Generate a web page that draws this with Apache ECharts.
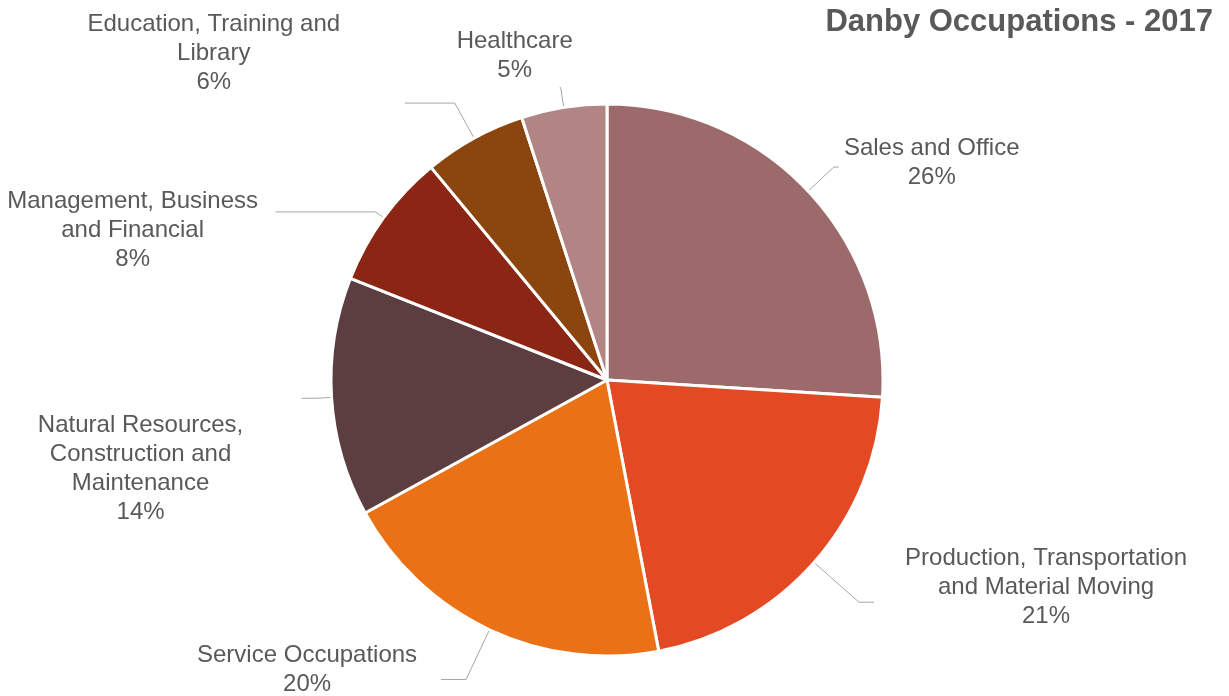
<!DOCTYPE html>
<html>
<head>
<meta charset="utf-8">
<script src="https://cdn.jsdelivr.net/npm/echarts@6/dist/echarts.min.js"></script>
<style>
  html, body { margin: 0; padding: 0; background: #fff; }
  #main { width: 1229px; height: 696px; }
</style>
</head>
<body>
<div id="main"></div>
<script>
var categories = [
    'Sales and Office',
    'Production, Transportation\nand Material Moving',
    'Service Occupations',
    'Natural Resources,\nConstruction and\nMaintenance',
    'Management, Business\nand Financial',
    'Education, Training and\nLibrary',
    'Healthcare'
];
var values = [26, 21, 20, 14, 8, 6, 5];
var colors = ['#9C6A6A', '#E34A24', '#EB7117', '#5C3E40', '#8B2614', '#8B450E', '#B08584'];

// leader line lengths [radial, horizontal] and label offset from line end
var lineLengths = [[35, 5], [60, 15], [55, 25], [15, 15], [10, 100], [40, 50], [20, 1]];
var labelOffsets = [[93, -4], [172, -15], [-134, -10], [-161, 71], [-143, 18], [-191, -50], [-45, -32]];

var myChart = echarts.init(document.getElementById('main'));

var pieData = categories.map(function (name, i) {
    return {
        name: name,
        value: values[i],
        itemStyle: { color: colors[i] },
        labelLine: { length: lineLengths[i][0], length2: lineLengths[i][1] }
    };
});

myChart.setOption({
    animation: false,
    title: {
        text: 'Danby Occupations - 2017',
        right: 16,
        top: 7,
        padding: 0,
        textStyle: {
            fontFamily: 'Liberation Sans',
            fontSize: 31,
            fontWeight: 'bold',
            color: '#595959'
        }
    },
    series: [
        {
            type: 'pie',
            center: [607, 380],
            radius: 276,
            startAngle: 90,
            clockwise: true,
            avoidLabelOverlap: false,
            emphasis: { scale: false },
            data: pieData,
            itemStyle: {
                borderColor: '#ffffff',
                borderWidth: 3
            },
            label: {
                show: true,
                position: 'outside',
                formatter: '{b}\n{d}%',
                fontFamily: 'Liberation Sans',
                fontSize: 24,
                lineHeight: 29,
                color: '#595959'
            },
            labelLine: {
                show: true,
                lineStyle: { color: '#A6A6A6', width: 1 }
            },
            labelLayout: function (params) {
                var pts = params.labelLinePoints;
                var end = pts[pts.length - 1];
                var off = labelOffsets[params.dataIndex];
                return {
                    x: end[0] + off[0],
                    y: end[1] + off[1],
                    align: 'center',
                    verticalAlign: 'middle',
                    labelLinePoints: pts
                };
            }
        }
    ]
});
</script>
</body>
</html>
